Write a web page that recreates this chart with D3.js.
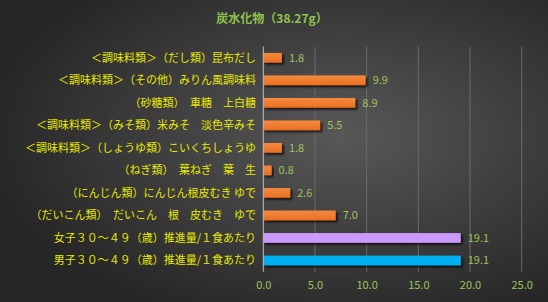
<!DOCTYPE html>
<html><head><meta charset="utf-8">
<script src="https://cdn.jsdelivr.net/npm/d3@7"></script>
<style>html,body{margin:0;padding:0;background:#333;}svg{display:block;}</style>
</head><body>
<script>
const categories = [
  "＜調味料類＞（だし類）昆布だし",
  "＜調味料類＞（その他）みりん風調味料",
  "（砂糖類）　車糖　上白糖",
  "＜調味料類＞（みそ類）米みそ　淡色辛みそ",
  "＜調味料類＞（しょうゆ類）こいくちしょうゆ",
  "（ねぎ類）　葉ねぎ　葉　生",
  "（にんじん類）にんじん根皮むき ゆで",
  "（だいこん類）　だいこん　根　皮むき　ゆで",
  "女子３０～４９（歳）推進量/１食あたり",
  "男子３０～４９（歳）推進量/１食あたり"
];
const values = [1.8, 9.9, 8.9, 5.5, 1.8, 0.8, 2.6, 7.0, 19.1, 19.1];
const barColors = ["#f07a2c","#f07a2c","#f07a2c","#f07a2c","#f07a2c","#f07a2c","#f07a2c","#f07a2c","#cc99ff","#00b0f0"];
const xTicks = [0, 5, 10, 15, 20, 25];
const title = "炭水化物（38.27g）";

const W = 548, H = 302;
const svg = d3.select("body").append("svg").attr("width", W).attr("height", H);
const defs = svg.append("defs");
const rg = defs.append("radialGradient").attr("id","bg").attr("cx","62%").attr("cy","45%").attr("r","65%");
rg.append("stop").attr("offset","0%").attr("stop-color","#585858");
rg.append("stop").attr("offset","100%").attr("stop-color","#262626");
const f = defs.append("filter").attr("id","sh").attr("x","-10%").attr("y","-50%").attr("width","130%").attr("height","250%");
f.append("feDropShadow").attr("dx",2).attr("dy",2).attr("stdDeviation",1.3).attr("flood-color","#000").attr("flood-opacity",0.75);
const og = defs.append("linearGradient").attr("id","og").attr("x1",0).attr("y1",0).attr("x2",0).attr("y2",1);
og.append("stop").attr("offset","0%").attr("stop-color","#f58a3f");
og.append("stop").attr("offset","100%").attr("stop-color","#ea6f22");

svg.append("rect").attr("width",W).attr("height",H).attr("fill","url(#bg)");

const font = "'Noto Sans CJK JP', 'Noto Sans', sans-serif";
const x = d3.scaleLinear().domain([0,25]).range([263.3, 521.7]);
const y = d3.scaleBand().domain(categories).range([46.5, 271.7]).paddingInner(0.57).paddingOuter(0.285);

svg.append("text").attr("x", 272).attr("y", 23).attr("text-anchor","middle")
  .attr("font-family", font).attr("font-size", 12).attr("font-weight","bold")
  .attr("fill","#8fc24e").text(title);

// gridlines
svg.append("g").selectAll("line").data(xTicks.slice(1)).join("line")
  .attr("x1", d=>x(d)).attr("x2", d=>x(d)).attr("y1", 46.5).attr("y2", 271.7)
  .attr("stroke","#6a6a6a").attr("stroke-width",1);

// bars
svg.append("g").selectAll("rect").data(values).join("rect")
  .attr("x", x(0)).attr("y", (d,i)=>y(categories[i]))
  .attr("width", d=>x(d)-x(0)).attr("height", y.bandwidth())
  .attr("fill", (d,i)=> barColors[i]==="#f07a2c" ? "url(#og)" : barColors[i])
  .attr("filter","url(#sh)");

// axis line
svg.append("line").attr("x1", x(0)).attr("x2", x(0)).attr("y1", 46.5).attr("y2", 271.7)
  .attr("stroke","#bfbfbf").attr("stroke-width",1);

// value labels
svg.append("g").selectAll("text").data(values).join("text")
  .attr("x", d=>x(d)+7).attr("y", (d,i)=>y(categories[i])+y.bandwidth()/2)
  .attr("dy","0.36em").attr("font-family", font).attr("font-size", 11)
  .attr("fill","#9bc45a").text(d=>d.toFixed(1));

// category labels
svg.append("g").selectAll("text").data(categories).join("text")
  .attr("x", 256).attr("y", d=>y(d)+y.bandwidth()/2).attr("dy","0.36em")
  .attr("text-anchor","end").attr("font-family", font).attr("font-size", 11)
  .attr("fill","#e8e800").text(d=>d);

// x tick labels
const xAxis = d3.axisBottom(x).tickValues(xTicks).tickFormat(d=>d.toFixed(1)).tickSize(0).tickPadding(0);
const ax = svg.append("g").attr("transform","translate(0,281)").call(xAxis);
ax.select(".domain").remove();
ax.selectAll("text").attr("font-family", font).attr("font-size", 11).attr("fill","#9bc45a");
</script>
</body></html>
